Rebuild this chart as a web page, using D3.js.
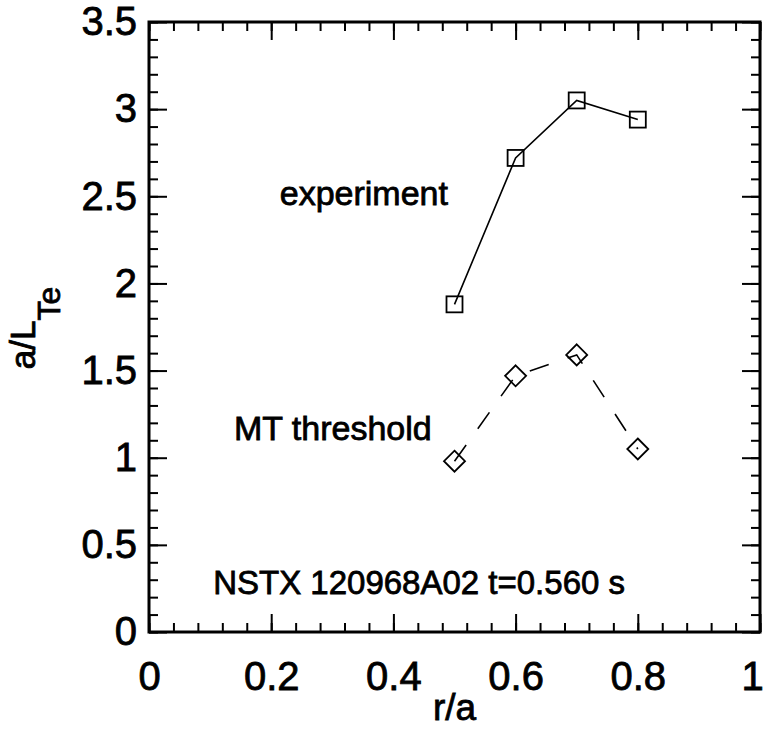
<!DOCTYPE html>
<html>
<head>
<meta charset="utf-8">
<script src="https://cdn.jsdelivr.net/npm/d3@7"></script>
<style>
  body { margin: 0; background: #fff; }
  text { font-family: "Liberation Sans", Arial, sans-serif; fill: #000; stroke: #000; stroke-width: 0.8px; }
</style>
</head>
<body>
<script>
var radius = [0.5, 0.6, 0.7, 0.8];
var experiment = [1.88, 2.72, 3.05, 2.94];
var threshold = [0.98, 1.47, 1.59, 1.05];
var xTicks = [0, 0.2, 0.4, 0.6, 0.8, 1];
var yTicks = [0, 0.5, 1, 1.5, 2, 2.5, 3, 3.5];

var margin = {top: 22, right: 5, bottom: 99, left: 149};
var width = 765 - margin.left - margin.right;
var height = 731 - margin.top - margin.bottom;

var xScale = d3.scaleLinear().domain([0, 1]).range([0, width]);
var yScale = d3.scaleLinear().domain([0, 3.5]).range([height, 0]);

var fmt = d3.format("~g");

var svg = d3.select("body")
  .append("svg")
  .attr("width", 765)
  .attr("height", 731)
  .append("g")
  .attr("transform", "translate(" + margin.left + "," + margin.top + ")");

function styleAxis(g) {
  g.select(".domain").remove();
  g.selectAll(".tick line").attr("stroke", "#000").attr("stroke-width", 2);
  g.selectAll(".tick text")
    .style("font-size", "40px")
    .style("font-family", "'Liberation Sans', Arial, sans-serif");
}

// minor ticks (inward, all four sides)
var xMinor = d3.range(0, 1.0001, 0.04);
var yMinor = d3.range(0, 3.5001, 0.1);

svg.append("g")
  .attr("transform", "translate(0," + height + ")")
  .call(d3.axisBottom(xScale).tickValues(xMinor).tickSize(-9).tickFormat(""))
  .call(styleAxis);
svg.append("g")
  .call(d3.axisTop(xScale).tickValues(xMinor).tickSize(-9).tickFormat(""))
  .call(styleAxis);
svg.append("g")
  .call(d3.axisLeft(yScale).tickValues(yMinor).tickSize(-9).tickFormat(""))
  .call(styleAxis);
svg.append("g")
  .attr("transform", "translate(" + width + ",0)")
  .call(d3.axisRight(yScale).tickValues(yMinor).tickSize(-9).tickFormat(""))
  .call(styleAxis);

// major ticks
svg.append("g")
  .attr("class", "x axis")
  .attr("transform", "translate(0," + height + ")")
  .call(d3.axisBottom(xScale).tickValues(xTicks).tickSize(-18).tickPadding(30).tickFormat(fmt))
  .call(styleAxis);
svg.append("g")
  .call(d3.axisTop(xScale).tickValues(xTicks).tickSize(-18).tickFormat(""))
  .call(styleAxis);
svg.append("g")
  .attr("class", "y axis")
  .call(d3.axisLeft(yScale).tickValues(yTicks).tickSize(-18).tickPadding(12).tickFormat(fmt))
  .call(styleAxis);
svg.append("g")
  .attr("transform", "translate(" + width + ",0)")
  .call(d3.axisRight(yScale).tickValues(yTicks).tickSize(-18).tickFormat(""))
  .call(styleAxis);

// last x label sits on the right edge, keep it inside the page
svg.select(".x.axis").selectAll(".tick text")
  .filter(function(d) { return d === 1; })
  .attr("text-anchor", "end")
  .attr("dx", "0.08em");

svg.append("rect")
  .attr("width", width)
  .attr("height", height)
  .attr("fill", "none")
  .attr("stroke", "#000")
  .attr("stroke-width", 3);

// series
var line = d3.line()
  .x(function(d) { return xScale(d[0]); })
  .y(function(d) { return yScale(d[1]); });

var expData = d3.zip(radius, experiment);
var thrData = d3.zip(radius, threshold);

svg.append("path")
  .datum(expData)
  .attr("d", line)
  .attr("fill", "none")
  .attr("stroke", "#000")
  .attr("stroke-width", 1.6);

svg.append("path")
  .datum(thrData)
  .attr("d", line)
  .attr("fill", "none")
  .attr("stroke", "#000")
  .attr("stroke-width", 1.6)
  .attr("stroke-dasharray", "20,20");

svg.selectAll(".sq")
  .data(expData)
  .enter().append("rect")
  .attr("class", "sq")
  .attr("x", function(d) { return xScale(d[0]) - 8; })
  .attr("y", function(d) { return yScale(d[1]) - 8; })
  .attr("width", 16)
  .attr("height", 16)
  .attr("fill", "none")
  .attr("stroke", "#000")
  .attr("stroke-width", 1.8);

svg.selectAll(".dm")
  .data(thrData)
  .enter().append("path")
  .attr("class", "dm")
  .attr("transform", function(d) {
    return "translate(" + xScale(d[0]) + "," + yScale(d[1]) + ")";
  })
  .attr("d", "M0,-10.5L10.5,0L0,10.5L-10.5,0Z")
  .attr("fill", "none")
  .attr("stroke", "#000")
  .attr("stroke-width", 1.8);

// annotations
svg.append("text")
  .attr("x", xScale(0.214))
  .attr("y", yScale(2.45))
  .style("font-size", "34px")
  .text("experiment");

svg.append("text")
  .attr("x", xScale(0.139))
  .attr("y", yScale(1.10))
  .style("font-size", "34px")
  .text("MT threshold");

svg.append("text")
  .attr("x", xScale(0.105))
  .attr("y", yScale(0.218))
  .style("font-size", "33px")
  .text("NSTX 120968A02 t=0.560 s");

// axis titles
svg.append("text")
  .attr("x", xScale(0.5))
  .attr("y", height + 88)
  .attr("text-anchor", "middle")
  .style("font-size", "37px")
  .text("r/a");

var yLabel = svg.append("text")
  .attr("transform", "translate(" + (35 - margin.left) + "," + (328 - margin.top) + ") rotate(-90)")
  .attr("text-anchor", "middle")
  .style("font-size", "35px");
yLabel.append("tspan").text("a/L");
yLabel.append("tspan")
  .attr("dy", 25)
  .style("font-size", "32px")
  .text("Te");
</script>
</body>
</html>
